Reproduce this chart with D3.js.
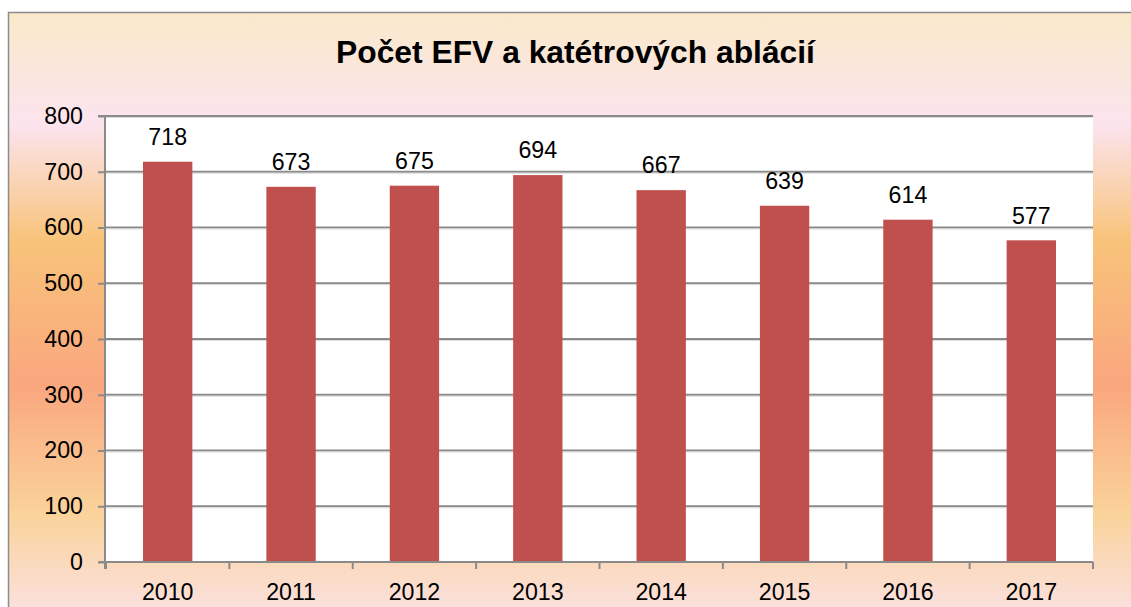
<!DOCTYPE html>
<html>
<head>
<meta charset="utf-8">
<script src="https://cdn.jsdelivr.net/npm/d3@7"></script>
<style>
html,body{margin:0;padding:0;background:#fff;overflow:hidden;}
svg{display:block;}
text{font-family:"Liberation Sans",Arial,sans-serif;fill:#000;}
</style>
</head>
<body>
<svg id="chart" width="1131" height="607"></svg>
<script>
const title = "Počet EFV a katétrových ablácií";
const categories = ["2010","2011","2012","2013","2014","2015","2016","2017"];
const values = [718, 673, 675, 694, 667, 639, 614, 577];
const yTicks = [0,100,200,300,400,500,600,700,800];

const W = 1131, H = 607;
const svg = d3.select("#chart");
const defs = svg.append("defs");

const grad = defs.append("linearGradient")
  .attr("id","bg").attr("gradientUnits","userSpaceOnUse")
  .attr("x1",0).attr("y1",12).attr("x2",0).attr("y2",607);
[[12,"#FAE9CA"],[125,"#FCE4EE"],[240,"#F8C37A"],[385,"#FAA77E"],[515,"#FAD39B"],[607,"#FBE0DC"]]
  .forEach(([y,c]) => grad.append("stop").attr("offset",((y-12)/(607-12))).attr("stop-color",c));

svg.append("rect").attr("x",8.5).attr("y",12.5).attr("width",1160).attr("height",640)
  .attr("fill","url(#bg)").attr("stroke","#8c8c8c").attr("stroke-width",1.5);

const plot = {left:106, right:1093, top:116, bottom:562};
const x = d3.scaleBand().domain(categories).range([plot.left, plot.right])
  .paddingInner(0.6).paddingOuter(0.3);
const y = d3.scaleLinear().domain([0,800]).range([plot.bottom, plot.top]);

svg.append("rect").attr("x",plot.left).attr("y",plot.top)
  .attr("width",plot.right-plot.left).attr("height",plot.bottom-plot.top).attr("fill","#fff");

// gridlines
svg.append("g").selectAll("line").data(yTicks.filter(d=>d>0)).join("line")
  .attr("x1",plot.left).attr("x2",plot.right)
  .attr("y1",d=>y(d)).attr("y2",d=>y(d))
  .attr("stroke","#8a8a8a").attr("stroke-width",2);
svg.append("g").selectAll("line").data(yTicks.filter(d=>d>0)).join("line")
  .attr("x1",plot.left).attr("x2",plot.right)
  .attr("y1",d=>y(d)+1.5).attr("y2",d=>y(d)+1.5)
  .attr("stroke","#dcdcdc").attr("stroke-width",1);

// bars
svg.append("g").selectAll("rect").data(values).join("rect")
  .attr("x",(d,i)=>x(categories[i])).attr("width",x.bandwidth())
  .attr("y",d=>y(d)).attr("height",d=>y(0)-y(d))
  .attr("fill","#C0504D");

// data labels
svg.append("g").selectAll("text").data(values).join("text")
  .attr("x",(d,i)=>x(categories[i])+x.bandwidth()/2)
  .attr("y",d=>y(d)-16.7)
  .attr("text-anchor","middle").attr("font-size",23.2)
  .text(d=>d);

// y axis
const yAxis = d3.axisLeft(y).tickValues(yTicks).tickSize(7).tickPadding(15);
const gy = svg.append("g").attr("transform",`translate(${plot.left-1},0)`).call(yAxis);
gy.select(".domain").attr("stroke","#8a8a8a").attr("stroke-width",2).attr("d",`M-7,${plot.top}H0V${plot.bottom+7}`);
gy.selectAll(".tick line").attr("stroke","#8a8a8a").attr("stroke-width",2);
gy.selectAll(".tick text").attr("font-size",23.2).attr("font-family","Liberation Sans, Arial, sans-serif").attr("fill","#000");

// x axis
const gx = svg.append("g").attr("transform",`translate(0,${plot.bottom})`);
gx.append("line").attr("x1",plot.left-7).attr("x2",plot.right).attr("y1",0).attr("y2",0)
  .attr("stroke","#8a8a8a").attr("stroke-width",2);
const step = x.step();
const bounds = categories.map(c => x(c) - step*0.3).concat([plot.right]);
gx.selectAll("line.tk").data(bounds).join("line").attr("class","tk")
  .attr("x1",d=>d).attr("x2",d=>d).attr("y1",0).attr("y2",7)
  .attr("stroke","#8a8a8a").attr("stroke-width",2);
gx.selectAll("text").data(categories).join("text")
  .attr("x",d=>x(d)+x.bandwidth()/2).attr("y",37.5)
  .attr("text-anchor","middle").attr("font-size",23.2).text(d=>d);

// title
svg.append("text").attr("x",575.5).attr("y",63).attr("text-anchor","middle")
  .attr("font-size",31.8).attr("font-weight","bold").text(title);
</script>
</body>
</html>
